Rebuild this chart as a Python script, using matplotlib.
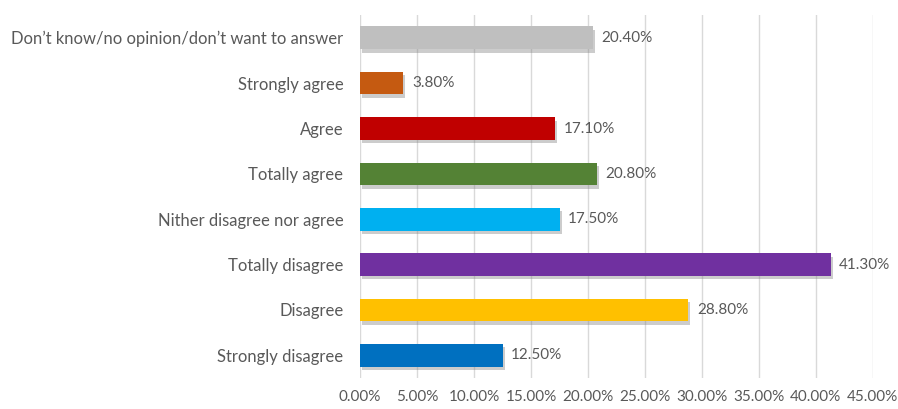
import matplotlib.pyplot as plt
import matplotlib.patheffects as pe
from matplotlib.ticker import FuncFormatter, MultipleLocator

# bottom-to-top order of the horizontal bars
categories = [
    "Strongly disagree",
    "Disagree",
    "Totally disagree",
    "Nither disagree nor agree",
    "Totally agree",
    "Agree",
    "Strongly agree",
    "Don\u2019t know/no opinion/don\u2019t want to answer",
]
values = [12.5, 28.8, 41.3, 17.5, 20.8, 17.1, 3.8, 20.4]
colors = ["#0070C0", "#FFC000", "#7030A0", "#00B0F0",
          "#548235", "#C00000", "#C55A11", "#BFBFBF"]

plt.rcParams["font.family"] = ["Lato", "DejaVu Sans"]
text_color = "#595959"

fig = plt.figure(figsize=(8.98, 4.09), dpi=100)
ax = fig.add_axes([0.401, 0.076, 0.571, 0.887])

shadow = [pe.SimplePatchShadow(offset=(1.5, -2.5), shadow_rgbFace="#808080", alpha=0.4),
          pe.Normal()]
bars = ax.barh(range(len(categories)), values, height=0.5, color=colors, zorder=3)
for b in bars:
    b.set_path_effects(shadow)

for i, v in enumerate(values):
    ax.text(v + 0.75, i, f"{v:.2f}%", va="center", ha="left",
            fontsize=11, color=text_color)

ax.set_xlim(0, 45)
ax.set_ylim(-0.5, len(categories) - 0.5)
ax.xaxis.set_major_locator(MultipleLocator(5))
ax.xaxis.set_major_formatter(FuncFormatter(lambda x, _: f"{x:.2f}%"))
ax.set_yticks(range(len(categories)))
ax.set_yticklabels(categories)
ax.grid(axis="x", color="#D9D9D9", linewidth=1, zorder=0)
for s in ax.spines.values():
    s.set_visible(False)
ax.tick_params(axis="both", length=0, colors=text_color)
ax.tick_params(axis="y", pad=12, labelsize=12)
ax.tick_params(axis="x", pad=9, labelsize=11)

fig.savefig("out.png", dpi=100)
